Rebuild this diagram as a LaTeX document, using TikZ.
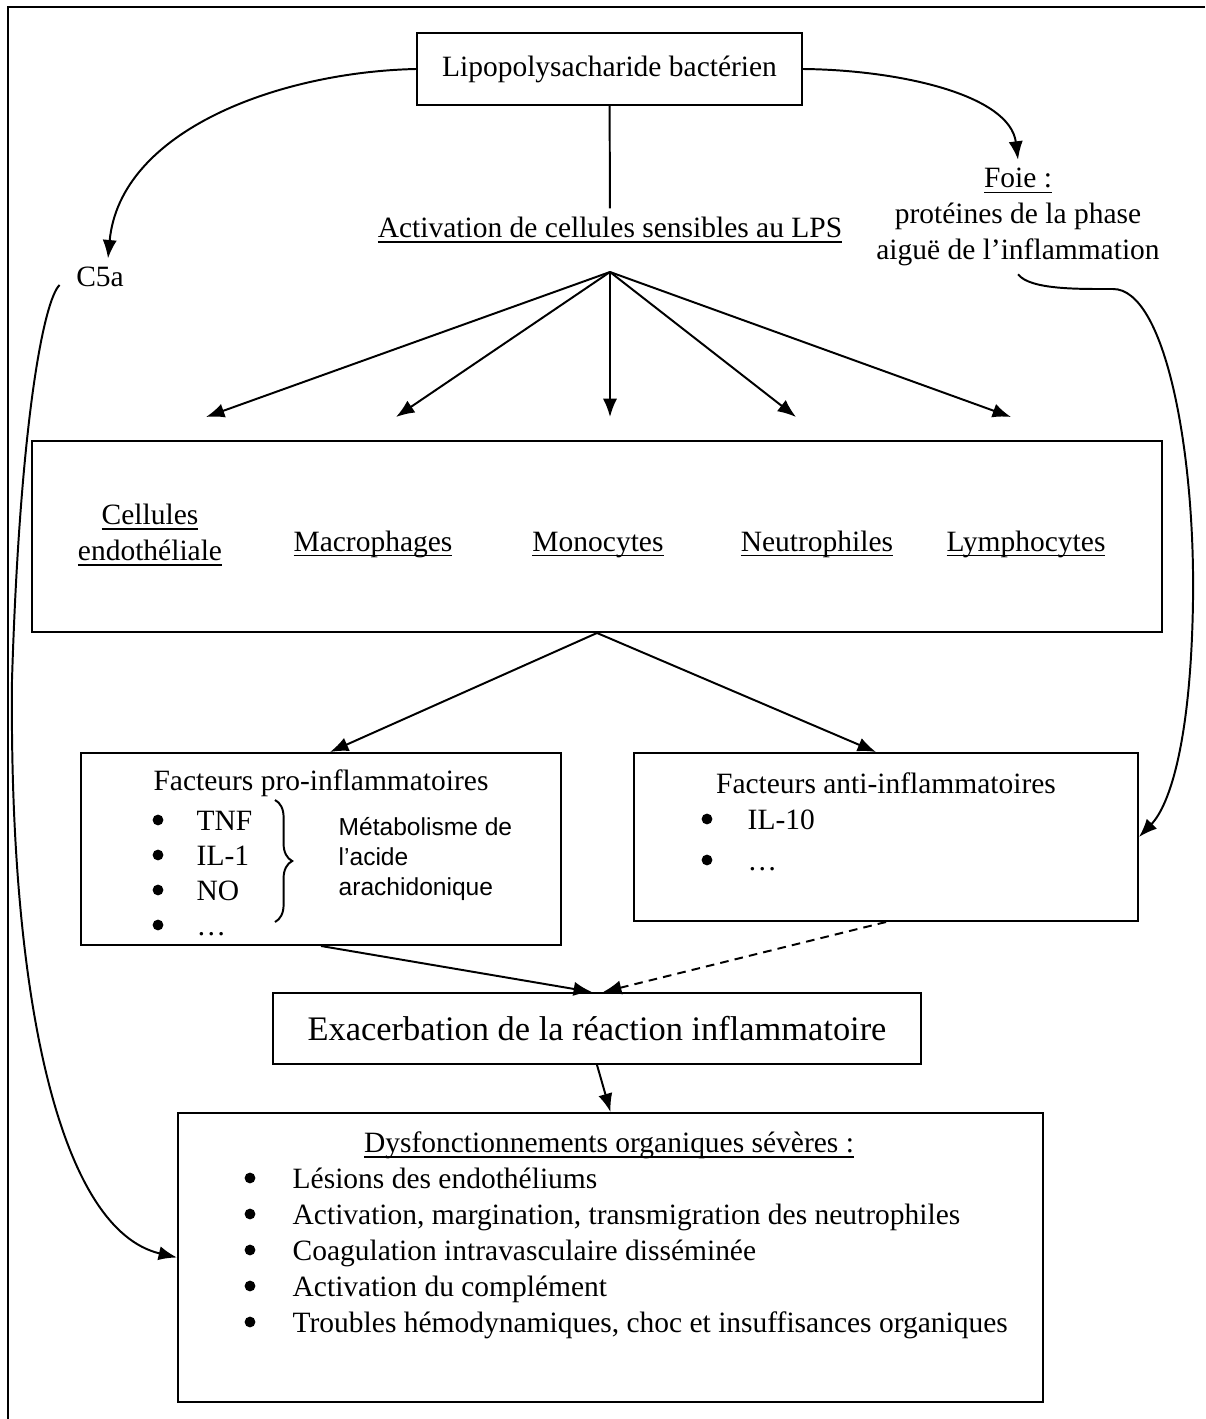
\documentclass[tikz,border=0pt]{standalone}
\usepackage{fontspec}
\setmainfont{Liberation Serif}
\setsansfont{Liberation Sans}
\usetikzlibrary{arrows.meta, calc, decorations.pathreplacing}

\newsavebox{\undlbox}
\newcommand{\undl}[1]{\sbox{\undlbox}{#1}\rlap{\rule[-2.2pt]{\wd\undlbox}{0.7pt}}\usebox{\undlbox}}

\begin{document}
\begin{tikzpicture}[
    x=0.407pt, y=-0.407pt,
    every node/.style={font=\fontsize{12}{14.5}\selectfont},
    box/.style={rectangle, draw=black, line width=0.8pt},
    link/.style={line width=0.8pt, -{Latex[length=7.5pt, width=5.8pt]}},
    plain/.style={line width=0.8pt},
    dot/.style={circle, fill=black, inner sep=0pt, minimum size=4.4pt},
    item/.style={anchor=base west},
    small/.style={font=\sffamily\fontsize{10}{12.2}\selectfont},
]

% ---- Layout ----
\def\px{0.407pt}
\useasboundingbox (0,0) rectangle (1205,1419);

% ---- Frame ----
\draw[line width=1.2pt] (1205,7) -| (8,1419);

% ---- Top ----
\node[box, minimum width={385*\px}, minimum height={72*\px}] (lps) at (609.5,69) {Lipopolysacharide bactérien};
\node (act) at (610,230) {\undl{Activation de cellules sensibles au LPS}};
\node (c5a) at (100,277) {C5a};
\node[align=center] (foie) at (1018,217) {\undl{Foie :}\\protéines de la phase\\aiguë de l’inflammation};

\draw[plain] (lps) -- (act);
\draw[link] (lps.west) .. controls (280,72) and (120,130) .. ($(c5a.north)+(8,0)$);
\draw[link] (lps.east) .. controls (900,70) and (1010,95) .. (foie.north);

% ---- Cells ----
\node[box, minimum width={1130*\px}, minimum height={191*\px}] (cells) at (597,536.5) {};
\node[align=center] (endo) at (150,535) {\undl{Cellules}\\\undl{endothéliale}};
\foreach \n/\x/\t in {mac/373/Macrophages, mono/598/Monocytes, neut/817/Neutrophiles, lymph/1026/Lymphocytes} {
    \node[anchor=base] (\n) at (\x,551) {\undl{\t}};
}

\coordinate (fan) at (610,272);
\foreach \i/\x in {1/206, 2/396, 3/610, 4/796, 5/1011} {
    \coordinate (tip\i) at (\x,417);
    \draw[link] (fan) -- (tip\i);
}

% ---- Pro-inflammatory ----
\node[box, minimum width={480*\px}, minimum height={192*\px}] (pro) at (321,849) {};
\node (protitle) at (321,783) {Facteurs pro-inflammatoires};
\foreach \i/\y/\t in {1/820/TNF, 2/855/IL-1, 3/890/NO, 4/925/…} {
    \node[dot] (pb\i) at (158,\y) {};
    \node[item] (pi\i) at (188,\y+10) {\t};
}
\draw[plain, decorate, decoration={brace, amplitude=7pt}] (275,800) -- (275,922);
\node[small, anchor=west, align=left] (metab) at (330,859) {Métabolisme de\\l’acide\\arachidonique};

% ---- Anti-inflammatory ----
\node[box, minimum width={504*\px}, minimum height={168*\px}] (anti) at (886,837) {};
\node (antititle) at (886,783) {Facteurs anti-inflammatoires};
\foreach \i/\y/\t in {1/819/IL-10, 2/860/…} {
    \node[dot] (ab\i) at (707,\y) {};
    \node[item] (ai\i) at (739,\y+10) {\t};
}

\draw[link] (cells.south) -- ($(pro.north)+(9,0)$);
\draw[link] (cells.south) -- ($(anti.north)+(-10,0)$);

% ---- Exacerbation ----
\node[box, minimum width={648*\px}, minimum height={71*\px}, font=\fontsize{14}{17}\selectfont] (exa) at (597,1028.5) {Exacerbation de la réaction inflammatoire};
\draw[link] (pro.south) -- ($(exa.north)+(-5,0)$);
\draw[link, dash pattern=on 3.5pt off 2.5pt] (anti.south) -- ($(exa.north)+(6,0)$);

% ---- Dysfunctions ----
\node[box, minimum width={865*\px}, minimum height={289*\px}] (bot) at (610.5,1257.5) {};
\node (bottitle) at (609,1145) {\undl{Dysfonctionnements organiques sévères :}};
\foreach \i/\t in {0/Lésions des endothéliums, 1/{Activation, margination, transmigration des neutrophiles}, 2/Coagulation intravasculaire disséminée, 3/Activation du complément, 4/{Troubles hémodynamiques, choc et insuffisances organiques}} {
    \node[dot] (db\i) at (250,{1178+36*\i}) {};
    \node[item] (di\i) at (284,{1188+36*\i}) {\t};
}
\draw[link] (exa.south) -- (bot.north);

% ---- Long curves ----
\draw[link] ($(c5a.west)+(-8,8)$) .. controls (44,300) and (20,420) .. (12,680)
    .. controls (9,1000) and (60,1230) .. (bot.west);
\draw[link] (foie.south) .. controls (1030,290) and (1080,289) .. (1113,289)
    .. controls (1165,289) and (1195,450) .. (1193,600)
    .. controls (1191,740) and (1170,805) .. (anti.east);

\end{tikzpicture}
\end{document}
